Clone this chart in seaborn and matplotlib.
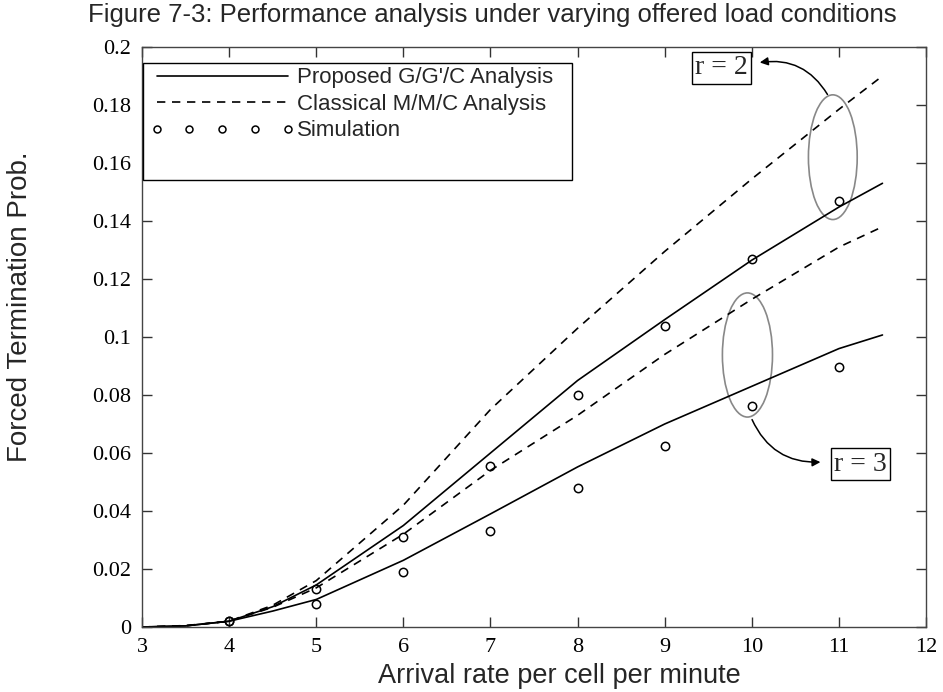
import numpy as np
import pandas as pd
import matplotlib
matplotlib.use("Agg")
import matplotlib.pyplot as plt
from matplotlib.lines import Line2D
from matplotlib.patches import Ellipse, FancyArrowPatch, Rectangle
import seaborn as sns

# Arrival rate grid for the analytical curves
rate = [3, 3.5, 4, 4.5, 5, 6, 7, 8, 9, 10, 11, 11.5]

# r = 2
gg_r2 = [0.0, 0.0004, 0.002, 0.007, 0.0145, 0.035, 0.060, 0.085, 0.106, 0.1265, 0.1448, 0.153]
mm_r2 = [0.0, 0.0005, 0.002, 0.0075, 0.016, 0.042, 0.075, 0.103, 0.1295, 0.1545, 0.1785, 0.190]
# r = 3
gg_r3 = [0.0, 0.0004, 0.002, 0.0055, 0.0095, 0.023, 0.039, 0.0552, 0.070, 0.083, 0.096, 0.1007]
mm_r3 = [0.0, 0.0004, 0.002, 0.0068, 0.0135, 0.032, 0.054, 0.073, 0.094, 0.113, 0.131, 0.138]

# Simulation results
sim_rate = [4, 5, 6, 7, 8, 9, 10, 11]
sim_r2 = [0.002, 0.013, 0.031, 0.0555, 0.080, 0.1038, 0.127, 0.147]
sim_r3 = [0.002, 0.008, 0.019, 0.033, 0.048, 0.0624, 0.0762, 0.0897]

x_ticks = [3, 4, 5, 6, 7, 8, 9, 10, 11, 12]
y_ticks = [0, 0.02, 0.04, 0.06, 0.08, 0.1, 0.12, 0.14, 0.16, 0.18, 0.2]
y_tick_labels = ["0", "0.02", "0.04", "0.06", "0.08", "0.1", "0.12", "0.14", "0.16", "0.18", "0.2"]

curves = pd.DataFrame({
    "rate": rate * 4,
    "prob": gg_r2 + mm_r2 + gg_r3 + mm_r3,
    "model": (["G/G'/C"] * len(rate) + ["M/M/C"] * len(rate)) * 2,
    "r": [2] * (2 * len(rate)) + [3] * (2 * len(rate)),
})
curves["series"] = curves["model"] + " r=" + curves["r"].astype(str)
sims = pd.DataFrame({"rate": sim_rate * 2, "prob": sim_r2 + sim_r3})

sns.set_theme(style="ticks")
plt.rcParams["font.family"] = ["Liberation Sans", "DejaVu Sans"]

fig = plt.figure(figsize=(9.43, 6.92), dpi=100)
ax = fig.add_axes([0.1506, 0.0939, 0.8314, 0.8382])

dash_map = {"G/G'/C r=2": "", "M/M/C r=2": (5, 4), "G/G'/C r=3": "", "M/M/C r=3": (5, 4)}
sns.lineplot(data=curves, x="rate", y="prob", units="series", style="series",
             dashes=dash_map, estimator=None, color="black", linewidth=1.2,
             legend=False, ax=ax)
ax.plot(sims["rate"], sims["prob"], linestyle="none", marker="o", markersize=6,
        markerfacecolor="none", markeredgecolor="black", markeredgewidth=1.1)

ax.set_xlim(3, 12)
ax.set_ylim(0, 0.2)
ax.set_xticks(x_ticks)
ax.set_xticklabels([str(t) for t in x_ticks], family="Liberation Serif", fontsize=16)
ax.set_yticks(y_ticks)
ax.set_yticklabels(y_tick_labels, family="Liberation Serif", fontsize=16)
ax.tick_params(direction="in", top=True, right=True, length=7, width=1,
               color="#333333", labelcolor="black", pad=8)
for s in ax.spines.values():
    s.set_color("#444444")
    s.set_linewidth(1.0)

ax.set_xlabel("Arrival rate per cell per minute", fontsize=19.5)
ax.xaxis.set_label_coords(0.532, -0.062)
ax.set_ylabel("Forced Termination Prob.", fontsize=20)
ax.yaxis.set_label_coords(-0.139, 0.552)
fig.suptitle("Figure 7-3: Performance analysis under varying offered load conditions",
             fontsize=18.5, y=0.995, x=0.522)

# Legend frame drawn separately so it can extend below the last entry
ax.add_patch(Rectangle((0.001, 0.771), 0.547, 0.201, transform=ax.transAxes,
                       fill=True, facecolor="white", edgecolor="black",
                       linewidth=1.0, zorder=4))
handles = [
    Line2D([], [], color="black", linewidth=1.2),
    Line2D([], [], color="black", linewidth=1.2, dashes=(5, 4)),
    Line2D([], [], linestyle="none", marker="o", markersize=5, markerfacecolor="none",
           markeredgecolor="black", markeredgewidth=1.1),
]
labels = ["Proposed G/G'/C Analysis", "Classical M/M/C Analysis", "Simulation"]
leg = ax.legend(handles, labels, loc="upper left", bbox_to_anchor=(0.0102, 0.965),
                borderaxespad=0, fontsize=16, handlelength=6.5, handletextpad=0.1,
                numpoints=5, frameon=False, borderpad=0.0, labelspacing=0.25)
leg.set_zorder(5)

# Groupings of the r = 2 and r = 3 curves
for cx, cy, w, h in [(10.93, 0.162, 0.56, 0.043), (9.95, 0.0938, 0.575, 0.0428)]:
    ax.add_patch(Ellipse((cx, cy), w, h, fill=False, edgecolor="#888888", linewidth=1.2))

box = dict(boxstyle="square,pad=0.12", facecolor="white", edgecolor="black", linewidth=1.0)
ax.text(9.655, 0.1928, "r = 2", family="Liberation Serif", fontsize=20,
        ha="center", va="center", bbox=box)
ax.text(11.25, 0.0562, "r = 3", family="Liberation Serif", fontsize=20,
        ha="center", va="center", bbox=box)

ax.add_patch(FancyArrowPatch((10.885, 0.1828), (10.06, 0.1945),
                             connectionstyle="arc3,rad=0.35", arrowstyle="-|>",
                             mutation_scale=12, color="black", linewidth=1.1))
ax.add_patch(FancyArrowPatch((9.99, 0.0724), (10.82, 0.0569),
                             connectionstyle="arc3,rad=0.35", arrowstyle="-|>",
                             mutation_scale=12, color="black", linewidth=1.1))

fig.savefig("out.png", dpi=100, facecolor="white")
